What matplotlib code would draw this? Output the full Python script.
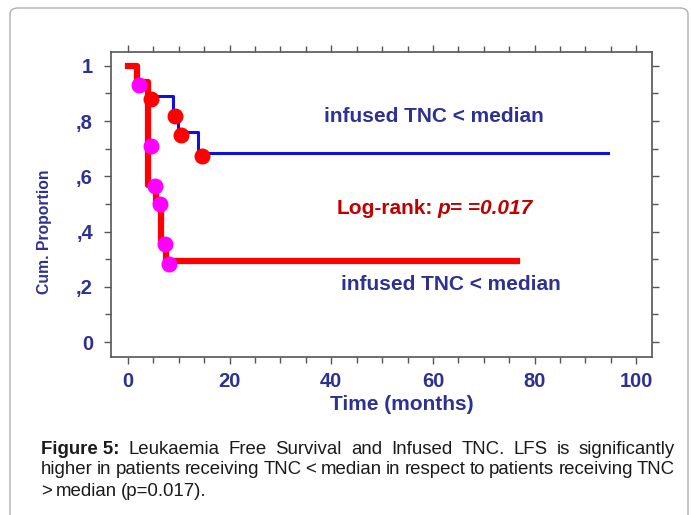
import matplotlib
matplotlib.use("Agg")
import matplotlib.pyplot as plt
from matplotlib.patches import FancyBboxPatch
from matplotlib.ticker import MultipleLocator

# step curves (time in months, cumulative proportion)
low_t = [0, 2.0, 3.9, 8.9, 9.8, 13.7, 94.5]
low_s = [1.0, 0.94, 0.89, 0.82, 0.76, 0.685, 0.685]
low_cens_t = [4.5, 9.2, 10.4, 14.5]
low_cens_s = [0.88, 0.82, 0.75, 0.675]

high_t = [0, 1.8, 3.9, 5.5, 6.5, 7.5, 76.6]
high_s = [1.0, 0.94, 0.57, 0.50, 0.36, 0.293, 0.293]
high_cens_t = [2.1, 4.5, 5.3, 6.3, 7.3, 8.0]
high_cens_s = [0.93, 0.71, 0.565, 0.50, 0.355, 0.283]

x_ticks = [0, 20, 40, 60, 80, 100]
y_ticks = [0, 0.2, 0.4, 0.6, 0.8, 1.0]
y_labels = ["0", ",2", ",4", ",6", ",8", "1"]

navy = "#2e3192"
W, H = 691, 515
fig = plt.figure(figsize=(W / 100, H / 100), dpi=100)

# rounded frame around figure + caption
frame = FancyBboxPatch((10 / W, -30 / H), 678 / W, (515 + 30 - 8) / H,
                       boxstyle="round,pad=0,rounding_size=0.012",
                       transform=fig.transFigure, fc="none", ec="#b0b0b0", lw=1.0,
                       zorder=-5)
fig.patches.append(frame)

ax = fig.add_axes([111 / W, 1 - 357 / H, (652 - 111) / W, (357 - 52) / H])
ax.step(low_t, low_s, where="post", color="#1010e0", lw=2.2, zorder=3)
ax.step(high_t, high_s, where="post", color="#ff0000", lw=4.5, zorder=4)
ax.plot(low_cens_t, low_cens_s, "o", color="#ff0000", ms=10.5, zorder=5)
ax.plot(high_cens_t, high_cens_s, "o", color="#ff00ff", ms=10.5, zorder=6)

ax.set_xlim(-3.35, 103.1)
ax.set_ylim(-0.054, 1.05)
ax.set_xticks(x_ticks)
ax.set_xticklabels([str(v) for v in x_ticks])
ax.set_yticks(y_ticks)
ax.set_yticklabels(y_labels)
ax.xaxis.set_minor_locator(MultipleLocator(5))
ax.yaxis.set_minor_locator(MultipleLocator(0.1))
ax.tick_params(which="both", direction="out", color="#555555", width=1,
               top=True, right=True)
ax.tick_params(which="major", length=5, labelsize=14.5, labelcolor=navy)
ax.tick_params(which="minor", length=4)
ax.tick_params(axis="x", which="major", pad=6)
ax.tick_params(axis="y", which="major", pad=8)
for lab in ax.get_xticklabels() + ax.get_yticklabels():
    lab.set_fontweight("bold")
    lab.set_family("Liberation Sans")
for s in ax.spines.values():
    s.set_color("#555555")
    s.set_linewidth(1.2)

fig.text(402 / W, 1 - 405 / H, "Time (months)", ha="center", va="center",
         fontsize=15, fontweight="bold", color=navy, family="Liberation Sans")
fig.text(45 / W, 1 - 232 / H, "Cum. Proportion", rotation=90, ha="center", va="center",
         fontsize=11.3, fontweight="bold", color=navy, family="Liberation Sans")

txt = dict(fontsize=15, fontweight="bold", family="Liberation Sans",
           va="center", transform=fig.transFigure)
fig.text(434 / W, 1 - 117 / H, "infused TNC < median", color=navy, ha="center", **txt)
fig.text(451 / W, 1 - 284 / H, "infused TNC < median", color=navy, ha="center", **txt)
fig.text(433 / W, 1 - 208 / H, "Log-rank:", color="#c00000", ha="right", **txt)
fig.text(437 / W, 1 - 208 / H, "p= =0.017", color="#c00000", ha="left",
         style="italic", **txt)

# caption, justified by placing words one by one
cap_font = "Liberation Sans"
lines = [
    [("Figure 5:", "bold")] + [(w, "normal") for w in
     "Leukaemia Free Survival and Infused TNC. LFS is significantly".split()],
    [(w, "normal") for w in
     "higher in patients receiving TNC < median in respect to patients receiving TNC".split()],
    [(w, "normal") for w in "> median (p=0.017).".split()],
]
x0, x1 = 41, 675
ys = [449, 470, 492]
renderer = fig.canvas.get_renderer()


def measure(words, size):
    objs = [fig.text(0, 0, w, fontsize=size, fontweight=wt, family=cap_font) for w, wt in words]
    widths = [o.get_window_extent(renderer).width for o in objs]
    for o in objs:
        o.remove()
    return widths


size = 14
while sum(measure(lines[1], size)) + 4 * (len(lines[1]) - 1) > x1 - x0:
    size -= 0.1

for i, words in enumerate(lines):
    widths = measure(words, size)
    if i < 2:
        gap = (x1 - x0 - sum(widths)) / (len(words) - 1)
    else:
        gap = 4
    x = x0
    for (w, wt), wd in zip(words, widths):
        fig.text(x / W, 1 - ys[i] / H, w, fontsize=size, fontweight=wt, family=cap_font,
                 color="#1a1a1a", va="center", ha="left")
        x += wd + gap

fig.savefig("out.png", dpi=100)
